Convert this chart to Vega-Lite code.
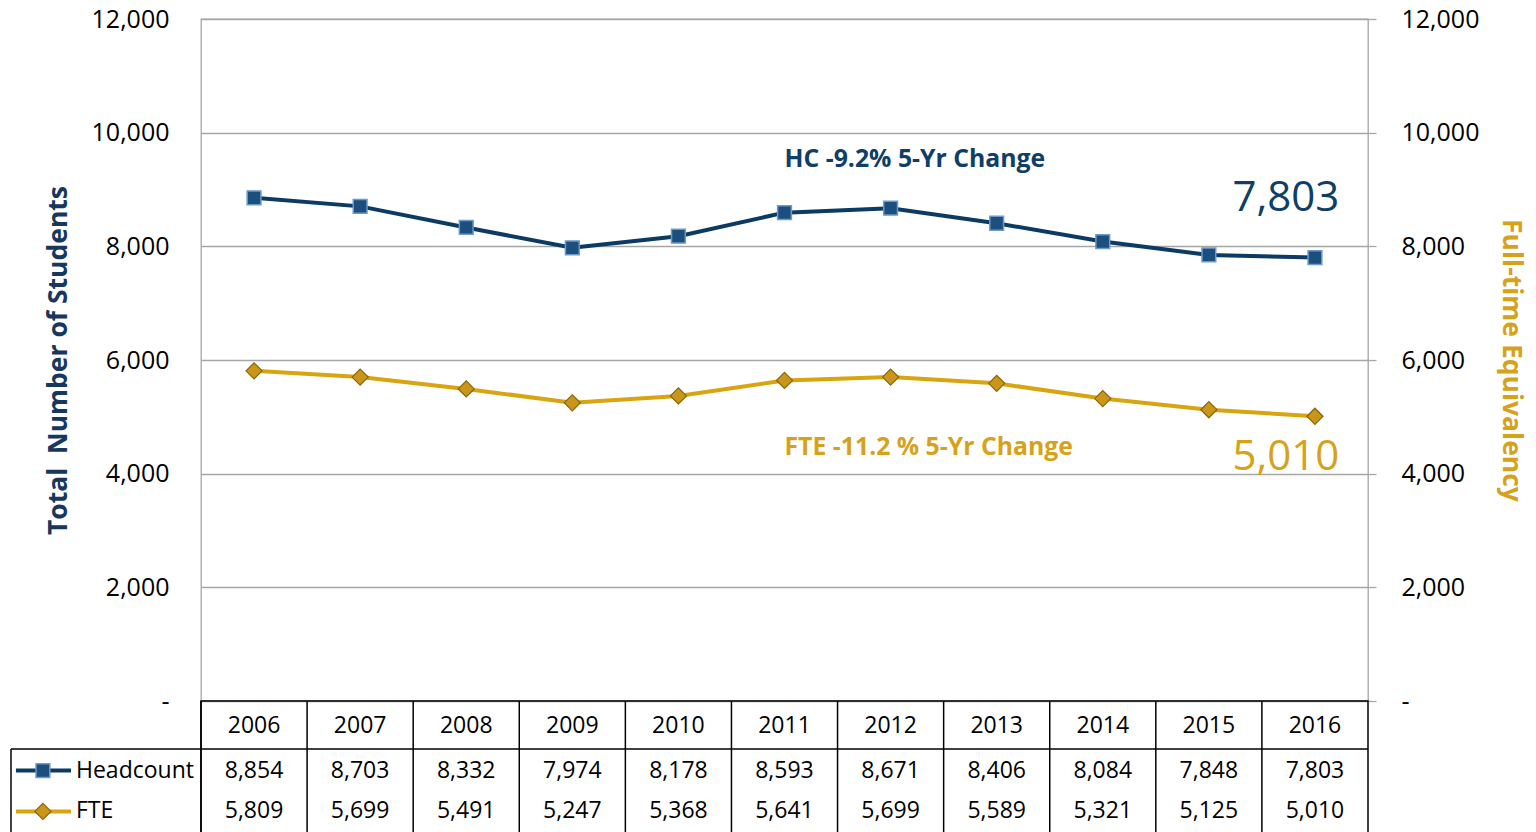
{
  "$schema": "https://vega.github.io/schema/vega-lite/v6.json",
  "padding": {"left": 10, "top": 6, "right": 10, "bottom": 0},
  "background": "#ffffff",
  "config": {"font": "Open Sans", "view": {"stroke": null}},
  "columns": 2,
  "spacing": 0,
  "bounds": "flush",
  "datasets": {
    "enroll": [
      {"year": "2006", "hc": 8854, "fte": 5809},
      {"year": "2007", "hc": 8703, "fte": 5699},
      {"year": "2008", "hc": 8332, "fte": 5491},
      {"year": "2009", "hc": 7974, "fte": 5247},
      {"year": "2010", "hc": 8178, "fte": 5368},
      {"year": "2011", "hc": 8593, "fte": 5641},
      {"year": "2012", "hc": 8671, "fte": 5699},
      {"year": "2013", "hc": 8406, "fte": 5589},
      {"year": "2014", "hc": 8084, "fte": 5321},
      {"year": "2015", "hc": 7848, "fte": 5125},
      {"year": "2016", "hc": 7803, "fte": 5010}
    ],
    "notes": [
      {"text": "HC -9.2% 5-Yr Change", "series": "HC", "year": "2011", "value": 9519, "kind": "note"},
      {"text": "FTE -11.2 % 5-Yr Change", "series": "FTE", "year": "2011", "value": 4460, "kind": "note"},
      {"text": "7,803", "series": "HC", "year": "2016", "value": 8842, "kind": "big"},
      {"text": "5,010", "series": "FTE", "year": "2016", "value": 4293, "kind": "big"}
    ],
    "legendRows": [
      {"series": "HC", "name": "Headcount"},
      {"series": "FTE", "name": "FTE"}
    ]
  },
  "concat": [
    {
      "width": 190,
      "height": 682,
      "data": {"values": []},
      "mark": "point",
      "encoding": {}
    },
    {
      "width": 1167,
      "height": 682,
      "view": {"stroke": "#a6a6a6", "strokeWidth": 1.3},
      "data": {"name": "enroll"},
      "layer": [
        {
          "encoding": {
            "x": {"field": "year", "type": "ordinal", "scale": {"type": "band", "paddingInner": 0, "paddingOuter": 0}, "axis": null, "bandPosition": 0.5},
            "y": {
              "field": "hc", "type": "quantitative",
              "scale": {"domain": [0, 12000], "nice": false},
              "axis": {
                "orient": "left",
                "values": [0, 2000, 4000, 6000, 8000, 10000, 12000],
                "labelExpr": "datum.value == 0 ? '-' : format(datum.value, ',')",
                "domain": false, "ticks": false, "tickSize": 0,
                "labelPadding": 32, "labelFontSize": 25, "labelColor": "#000000",
                "grid": true, "gridColor": "#a6a6a6", "gridWidth": 1.3,
                "title": "Total\u00a0\u00a0Number of Students", "titleFontSize": 26.5, "titleFontWeight": "bold",
                "titleColor": "#17375e", "titlePadding": 19
              }
            }
          },
          "layer": [
            {"mark": {"type": "line", "color": "#0b3a62", "strokeWidth": 4}},
            {"mark": {"type": "point", "shape": "square", "size": 190, "filled": true, "opacity": 1, "fill": "#1d4f7e", "stroke": "#6b9bcc", "strokeWidth": 1.5}}
          ]
        },
        {
          "encoding": {
            "x": {"field": "year", "type": "ordinal", "scale": {"type": "band", "paddingInner": 0, "paddingOuter": 0}, "axis": null, "bandPosition": 0.5},
            "y": {
              "field": "fte", "type": "quantitative",
              "scale": {"domain": [0, 12000], "nice": false},
              "axis": {
                "orient": "right",
                "values": [0, 2000, 4000, 6000, 8000, 10000, 12000],
                "labelExpr": "datum.value == 0 ? '-' : format(datum.value, ',')",
                "domain": false, "ticks": true, "tickSize": 8, "tickColor": "#a6a6a6", "tickWidth": 1.3,
                "labelPadding": 25, "labelFontSize": 25, "labelColor": "#000000",
                "grid": false,
                "title": "Full-time Equivalency", "titleFontSize": 26.5, "titleFontWeight": "bold",
                "titleColor": "#d6a21a", "titlePadding": 18, "titleAngle": 90
              }
            }
          },
          "layer": [
            {"mark": {"type": "line", "color": "#d8a410", "strokeWidth": 4}},
            {"mark": {"type": "point", "shape": "diamond", "size": 260, "filled": true, "opacity": 1, "fill": "#c9961a", "stroke": "#8a6508", "strokeWidth": 1.2}}
          ]
        },
        {
          "data": {"name": "notes"},
          "encoding": {
            "y": {"field": "value", "type": "quantitative", "scale": {"domain": [0, 12000], "nice": false}, "axis": null},
            "text": {"field": "text"},
            "color": {"field": "series", "type": "nominal", "scale": {"domain": ["HC", "FTE"], "range": ["#0f3e66", "#d6a21a"]}, "legend": null}
          },
          "layer": [
            {
              "transform": [{"filter": "datum.kind == 'note'"}],
              "mark": {"type": "text", "align": "left", "baseline": "middle", "fontSize": 24.8, "fontWeight": "bold"},
              "encoding": {
                "x": {"field": "year", "type": "ordinal", "scale": {"type": "band", "paddingInner": 0, "paddingOuter": 0}, "axis": null, "bandPosition": 0.5}
              }
            },
            {
              "transform": [{"filter": "datum.kind == 'big'"}],
              "mark": {"type": "text", "align": "right", "baseline": "middle", "fontSize": 42},
              "encoding": {
                "x": {"field": "year", "type": "ordinal", "scale": {"type": "band", "paddingInner": 0, "paddingOuter": 0}, "axis": null, "bandPosition": 0.73}
              }
            }
          ]
        }
      ],
      "resolve": {"scale": {"y": "independent"}, "axis": {"y": "independent"}}
    },
    {
      "width": 190,
      "height": 132,
      "data": {"name": "legendRows"},
      "layer": [
        {
          "data": {"values": [{}]},
          "mark": {"type": "rule", "color": "#000000", "strokeWidth": 1.5},
          "encoding": {
            "y": {"datum": 1, "type": "quantitative", "scale": {"domain": [0, 2.75], "reverse": true, "nice": false, "zero": false}, "axis": null}
          }
        },
        {
          "data": {"values": [{}]},
          "mark": {"type": "rule", "color": "#000000", "strokeWidth": 1.5},
          "encoding": {
            "x": {"datum": 0, "type": "quantitative", "scale": {"domain": [0, 1], "nice": false}, "axis": null},
            "y": {"datum": 1, "type": "quantitative", "scale": {"domain": [0, 2.75], "reverse": true, "nice": false, "zero": false}, "axis": null},
            "y2": {"datum": 2.75}
          }
        },
        {
          "transform": [{"filter": "datum.series == 'HC'"}],
          "encoding": {
            "y": {"datum": 1.45, "type": "quantitative", "scale": {"domain": [0, 2.75], "reverse": true, "nice": false, "zero": false}, "axis": null}
          },
          "layer": [
            {"mark": {"type": "rule", "color": "#0b3a62", "strokeWidth": 4}, "encoding": {"x": {"datum": 0.026, "type": "quantitative", "scale": {"domain": [0, 1], "nice": false}, "axis": null}, "x2": {"datum": 0.316}}},
            {"mark": {"type": "point", "shape": "square", "size": 190, "filled": true, "opacity": 1, "fill": "#1d4f7e", "stroke": "#6b9bcc", "strokeWidth": 1.5}, "encoding": {"x": {"datum": 0.168, "type": "quantitative", "scale": {"domain": [0, 1], "nice": false}, "axis": null}}},
            {"mark": {"type": "text", "align": "left", "baseline": "middle", "fontSize": 23, "color": "#000000"}, "encoding": {"x": {"datum": 0.342, "type": "quantitative", "scale": {"domain": [0, 1], "nice": false}, "axis": null}, "text": {"field": "name"}}}
          ]
        },
        {
          "transform": [{"filter": "datum.series == 'FTE'"}],
          "encoding": {
            "y": {"datum": 2.3, "type": "quantitative", "scale": {"domain": [0, 2.75], "reverse": true, "nice": false, "zero": false}, "axis": null}
          },
          "layer": [
            {"mark": {"type": "rule", "color": "#d8a410", "strokeWidth": 4}, "encoding": {"x": {"datum": 0.026, "type": "quantitative", "scale": {"domain": [0, 1], "nice": false}, "axis": null}, "x2": {"datum": 0.316}}},
            {"mark": {"type": "point", "shape": "diamond", "size": 260, "filled": true, "opacity": 1, "fill": "#c9961a", "stroke": "#8a6508", "strokeWidth": 1.2}, "encoding": {"x": {"datum": 0.168, "type": "quantitative", "scale": {"domain": [0, 1], "nice": false}, "axis": null}}},
            {"mark": {"type": "text", "align": "left", "baseline": "middle", "fontSize": 23, "color": "#000000"}, "encoding": {"x": {"datum": 0.342, "type": "quantitative", "scale": {"domain": [0, 1], "nice": false}, "axis": null}, "text": {"field": "name"}}}
          ]
        }
      ]
    },
    {
      "width": 1167,
      "height": 132,
      "view": {"stroke": "#000000", "strokeWidth": 1.5},
      "data": {"name": "enroll"},
      "layer": [
        {
          "mark": {"type": "rule", "color": "#000000", "strokeWidth": 1.5},
          "encoding": {
            "x": {"field": "year", "type": "ordinal", "scale": {"type": "band", "paddingInner": 0, "paddingOuter": 0}, "axis": null, "bandPosition": 0}
          }
        },
        {
          "data": {"values": [{}]},
          "mark": {"type": "rule", "color": "#000000", "strokeWidth": 1.5},
          "encoding": {
            "y": {"datum": 1, "type": "quantitative", "scale": {"domain": [0, 2.75], "reverse": true, "nice": false, "zero": false}, "axis": null}
          }
        },
        {
          "mark": {"type": "text", "baseline": "middle", "fontSize": 23, "color": "#000000"},
          "encoding": {
            "x": {"field": "year", "type": "ordinal", "scale": {"type": "band", "paddingInner": 0, "paddingOuter": 0}, "axis": null, "bandPosition": 0.5},
            "y": {"datum": 0.52, "type": "quantitative", "scale": {"domain": [0, 2.75], "reverse": true, "nice": false, "zero": false}, "axis": null},
            "text": {"field": "year"}
          }
        },
        {
          "mark": {"type": "text", "baseline": "middle", "fontSize": 23, "color": "#000000"},
          "encoding": {
            "x": {"field": "year", "type": "ordinal", "scale": {"type": "band", "paddingInner": 0, "paddingOuter": 0}, "axis": null, "bandPosition": 0.5},
            "y": {"datum": 1.45, "type": "quantitative", "scale": {"domain": [0, 2.75], "reverse": true, "nice": false, "zero": false}, "axis": null},
            "text": {"field": "hc", "type": "quantitative", "format": ","}
          }
        },
        {
          "mark": {"type": "text", "baseline": "middle", "fontSize": 23, "color": "#000000"},
          "encoding": {
            "x": {"field": "year", "type": "ordinal", "scale": {"type": "band", "paddingInner": 0, "paddingOuter": 0}, "axis": null, "bandPosition": 0.5},
            "y": {"datum": 2.3, "type": "quantitative", "scale": {"domain": [0, 2.75], "reverse": true, "nice": false, "zero": false}, "axis": null},
            "text": {"field": "fte", "type": "quantitative", "format": ","}
          }
        }
      ]
    }
  ]
}
